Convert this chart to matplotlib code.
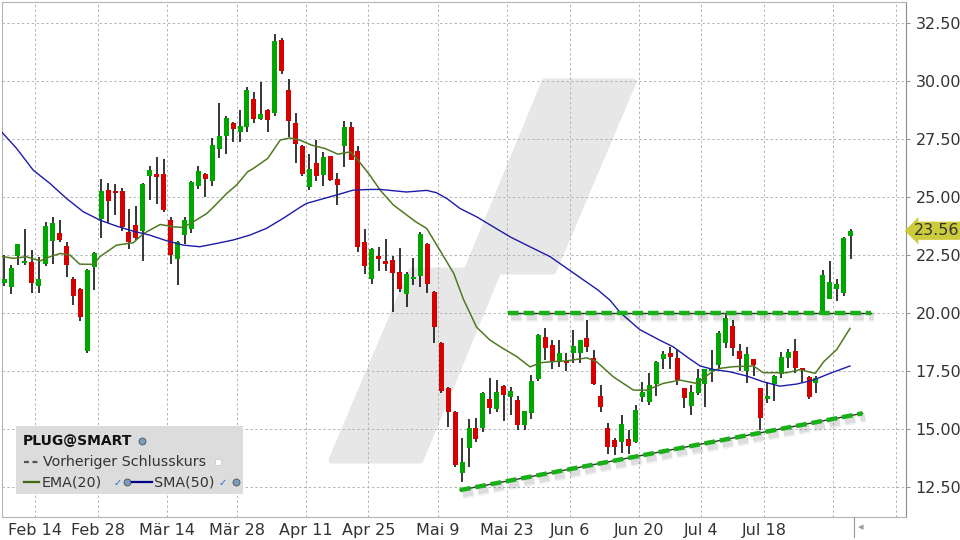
import numpy as np
import pandas as pd
import matplotlib
matplotlib.use('Agg')
import matplotlib.pyplot as plt
import matplotlib.transforms as mtransforms
import matplotlib.patheffects as pe
from matplotlib.patches import Polygon, Rectangle
from matplotlib.lines import Line2D

# Handelstage (NYSE 2022), erster Tag 7. Feb, letzter 3. Aug
feiertage = ['2022-02-21', '2022-04-15', '2022-05-30', '2022-06-20', '2022-07-04']
tage = pd.bdate_range('2022-02-07', '2022-08-03', freq='C', holidays=feiertage)
tage_ext = pd.bdate_range('2022-02-07', '2022-08-31', freq='C', holidays=feiertage)

eroeffnung = [21.32, 21.15, 22.47, 22.18, 22.21, 21.19, 22.13, 23.13, 23.46, 22.90,
              21.48, 21.05, 18.38, 22.01, 24.08, 25.31, 25.27, 25.27, 23.50, 23.81,
              23.56, 25.93, 26.00, 26.00, 24.02, 22.33, 23.38, 23.63, 25.50, 26.00,
              25.71, 27.10, 27.65, 28.20, 27.83, 28.04, 29.23, 28.39, 28.76, 28.65,
              31.78, 29.62, 28.20, 27.21, 25.46, 26.48, 25.97, 26.78, 25.79, 27.22,
              28.03, 27.00, 23.07, 21.49, 22.47, 22.25, 22.29, 21.78, 20.84, 21.49,
              21.62, 22.99, 20.94, 18.72, 16.78, 15.74, 13.10, 14.21, 15.05, 15.07,
              16.29, 15.89, 16.86, 16.40, 16.26, 15.18, 15.69, 17.18, 18.98, 18.63,
              17.93, 17.95, 18.31, 18.30, 18.93, 18.06, 16.43, 15.07, 14.53, 14.46,
              14.58, 14.46, 16.40, 16.19, 16.95, 18.02, 18.30, 18.06, 16.77, 16.00,
              16.57, 16.96, 17.52, 17.77, 18.70, 19.45, 18.37, 17.52, 18.03, 16.78,
              16.32, 16.95, 17.37, 18.08, 18.37, 17.63, 17.27, 17.01, 20.07, 20.61,
              21.06, 20.89, 23.34]
hoch = [22.51, 22.08, 23.00, 23.63, 22.73, 22.44, 23.95, 24.14, 24.02, 23.07,
        21.55, 21.10, 21.90, 22.64, 25.79, 25.60, 25.57, 25.39, 24.50, 24.63,
        25.62, 26.36, 26.75, 26.65, 24.14, 23.12, 24.17, 25.70, 26.35, 26.05,
        27.55, 29.06, 28.50, 28.26, 28.76, 29.75, 29.54, 29.97, 28.80, 32.02,
        31.88, 30.08, 28.63, 27.25, 26.86, 27.47, 26.97, 26.80, 26.05, 28.30,
        28.23, 27.21, 23.63, 22.83, 22.86, 23.20, 22.47, 22.83, 21.76, 22.40,
        23.50, 23.03, 20.98, 18.75, 16.84, 15.79, 14.61, 15.44, 15.50, 16.59,
        17.22, 17.14, 16.90, 16.84, 16.43, 15.80, 17.34, 19.13, 19.36, 18.84,
        18.87, 18.30, 19.28, 18.87, 19.71, 18.41, 16.91, 15.28, 14.61, 15.61,
        14.97, 16.04, 17.03, 17.44, 17.94, 18.39, 18.56, 18.42, 16.80, 16.90,
        17.62, 17.62, 18.40, 19.25, 19.95, 19.71, 18.66, 18.56, 18.05, 16.80,
        17.05, 17.35, 18.34, 18.46, 18.89, 17.66, 17.31, 17.31, 21.86, 22.25,
        21.48, 23.30, 23.62]
tief = [21.19, 20.83, 22.08, 22.08, 20.89, 20.89, 22.04, 22.13, 23.07, 21.58,
        20.37, 19.67, 18.30, 21.02, 23.26, 23.88, 24.24, 23.56, 22.76, 23.16,
        22.27, 24.88, 24.71, 24.38, 22.13, 21.22, 22.99, 23.45, 25.34, 25.03,
        25.50, 26.71, 26.88, 27.37, 27.37, 27.83, 28.21, 28.32, 27.83, 28.50,
        30.33, 27.61, 26.49, 25.94, 25.33, 25.71, 25.50, 25.71, 24.67, 26.32,
        26.59, 22.65, 21.69, 21.28, 21.84, 21.84, 20.07, 20.93, 20.28, 21.23,
        21.15, 20.89, 18.73, 16.55, 15.08, 13.39, 12.71, 13.39, 14.46, 14.90,
        15.67, 15.76, 15.37, 15.61, 14.97, 14.97, 15.44, 17.09, 17.98, 17.62,
        17.70, 17.52, 17.84, 17.84, 18.33, 16.91, 15.74, 13.93, 13.90, 13.96,
        13.93, 14.39, 16.16, 16.06, 16.43, 17.60, 17.60, 16.91, 15.90, 15.61,
        16.47, 15.97, 17.04, 17.65, 18.49, 18.17, 17.52, 17.01, 17.30, 14.97,
        16.12, 16.23, 17.22, 17.63, 17.41, 17.05, 16.32, 16.58, 20.07, 20.61,
        20.54, 20.76, 22.35]
schluss = [21.48, 21.97, 22.97, 22.25, 21.32, 21.48, 23.76, 23.89, 23.16, 22.10,
           20.76, 19.86, 21.87, 22.60, 25.27, 24.86, 25.20, 23.71, 23.07, 23.26,
           25.59, 26.18, 25.89, 24.45, 22.51, 23.06, 24.02, 25.66, 26.13, 25.80,
           27.25, 27.64, 28.44, 27.96, 28.07, 29.62, 28.39, 28.59, 28.34, 31.72,
           30.46, 28.30, 27.31, 26.02, 26.22, 25.93, 26.75, 25.76, 25.54, 28.03,
           26.63, 22.87, 22.05, 22.76, 22.35, 22.12, 21.75, 21.06, 21.69, 21.56,
           23.42, 21.28, 19.42, 16.66, 15.76, 13.47, 13.59, 15.05, 14.58, 16.56,
           15.94, 16.61, 16.49, 16.65, 15.20, 15.79, 17.08, 19.06, 18.52, 17.95,
           18.30, 17.88, 18.59, 18.85, 18.56, 16.96, 15.97, 14.25, 14.25, 15.22,
           14.29, 15.83, 16.62, 16.91, 17.91, 18.23, 18.13, 17.12, 16.36, 16.60,
           17.20, 17.60, 17.62, 19.15, 19.78, 18.49, 18.03, 18.23, 17.77, 15.50,
           16.43, 17.31, 18.13, 18.32, 17.65, 17.55, 16.40, 17.20, 21.65, 21.36,
           21.26, 23.24, 23.56]

# EMA(20) / SMA(50) (Position = Handelstag-Index)
ema_pos = [-0.6, 1.3, 3.2, 5.2, 6.6, 8.1, 9.5, 10.9, 12.9, 13.8, 16.2, 18.6, 20.1, 22.5,
           24.4, 25.8, 27.3, 29.2, 30.2, 32.1, 33.5, 35.1, 35.9, 38.0, 39.8, 41.2, 42.6,
           44.3, 46.2, 48.1, 49.9, 50.8, 52.7, 54.2, 56.1, 59.3, 60.9, 62.8, 64.8, 66.2,
           68.1, 70.0, 71.5, 73.9, 75.8, 77.3, 78.7, 81.1, 84.0, 85.4, 87.8, 90.7, 92.6,
           95.0, 97.4, 99.8, 102.2, 103.2, 105.1, 108.0, 109.4, 112.8, 114.7, 116.9,
           118.1, 120.0, 121.9]
ema_wert = [22.47, 22.37, 22.44, 22.26, 22.44, 22.58, 22.51, 22.12, 22.11, 22.44, 22.94,
            23.04, 23.44, 23.83, 23.73, 23.70, 23.95, 24.30, 24.59, 25.17, 25.53, 26.10,
            26.24, 26.68, 27.47, 27.56, 27.47, 27.25, 27.11, 26.86, 26.96, 26.68, 25.96,
            25.31, 24.67, 23.95, 23.66, 22.72, 21.72, 20.60, 19.40, 18.85, 18.56, 18.13,
            17.69, 17.87, 17.91, 17.95, 18.08, 17.91, 17.26, 16.69, 16.69, 16.98, 17.12,
            16.98, 17.52, 17.63, 17.70, 17.73, 17.44, 17.44, 17.57, 17.41, 17.91, 18.44,
            19.35]
sma_pos = [-0.6, 1.8, 4.2, 6.6, 9.0, 11.4, 13.8, 16.2, 18.6, 21.0, 23.4, 25.8, 28.2,
           30.6, 33.0, 35.4, 37.8, 40.2, 42.6, 43.6, 47.9, 50.3, 52.7, 54.2, 58.0, 60.9,
           62.3, 63.8, 65.7, 68.1, 70.5, 72.9, 75.3, 78.7, 82.0, 85.6, 87.3, 88.8, 91.6,
           94.5, 96.4, 98.5, 100.3, 102.2, 104.6, 107.0, 109.4, 111.8, 114.2, 116.6,
           119.0, 121.9]
sma_wert = [27.90, 27.11, 26.17, 25.60, 24.95, 24.38, 24.02, 23.76, 23.54, 23.37, 23.13,
            22.94, 22.87, 23.01, 23.16, 23.37, 23.66, 24.09, 24.56, 24.74, 25.10, 25.31,
            25.34, 25.34, 25.23, 25.30, 25.20, 24.95, 24.52, 24.16, 23.73, 23.30, 22.94,
            22.44, 21.75, 21.00, 20.57, 20.03, 19.30, 18.84, 18.56, 18.10, 17.73, 17.58,
            17.48, 17.30, 17.05, 16.86, 16.95, 17.12, 17.41, 17.73]

# Trendlinien
widerstand_x = [72.66, 124.9]
widerstand_y = [20.0, 20.0]
unterstuetzung_x = [65.7, 123.7]
unterstuetzung_y = [12.38, 15.69]

tick_datum = ['2022-02-14', '2022-02-28', '2022-03-14', '2022-03-28', '2022-04-11',
              '2022-04-25', '2022-05-09', '2022-05-23', '2022-06-06', '2022-06-20',
              '2022-07-04', '2022-07-18', '2022-08-01', '2022-08-12']
tick_text = ['Feb 14', 'Feb 28', 'Mär 14', 'Mär 28', 'Apr 11', 'Apr 25', 'Mai 9',
             'Mai 23', 'Jun 6', 'Jun 20', 'Jul 4', 'Jul 18', '', '']
y_ticks = [12.5, 15.0, 17.5, 20.0, 22.5, 25.0, 27.5, 30.0, 32.5]
letzter_kurs = schluss[-1]

o = np.array(eroeffnung); h = np.array(hoch); l = np.array(tief); c = np.array(schluss)
x = np.arange(len(o))
tick_pos = tage_ext.searchsorted(pd.to_datetime(tick_datum)) - 0.5

W, H = 960, 540
fig = plt.figure(figsize=(9.6, 5.4), dpi=100)
fig.patch.set_facecolor('white')
ax = fig.add_axes([2 / W, 1 - 517 / H, 903.7 / W, 515 / H])
ax.set_xlim(-0.30, 129.93)
ax.set_ylim(11.22, 33.42)

# Wasserzeichen
def af(px, py):
    return ((px - 2) / 903.7, (517 - py) / 515)
poly = [af(545, 82), af(633, 82), af(553, 271), af(498, 271), af(420, 460),
        af(332, 460), af(412, 271), af(467, 271)]
ax.add_patch(Polygon(poly, closed=True, transform=ax.transAxes, fc='#e7e7e7',
                     ec='#e7e7e7', lw=5, joinstyle='round', zorder=0))

# Gitter
for yv in y_ticks:
    ax.axhline(yv, color='#b4b4b4', lw=0.7, ls=(0, (2.5, 2.5)), zorder=1)
for xv in tick_pos:
    ax.axvline(xv, color='#b4b4b4', lw=0.7, ls=(0, (2.5, 2.5)), zorder=1)

# Kerzen
gruen, rot = '#00a600', '#d70000'
farben = np.where(c >= o, gruen, rot)
ax.vlines(x, l, h, color='black', lw=1.1, zorder=3)
unten = np.minimum(o, c)
hoehe = np.maximum(np.abs(c - o), 0.07)
ax.bar(x, hoehe, bottom=unten, width=0.72, color=farben, lw=0, zorder=4)

# Indikatoren
ax.plot(ema_pos, ema_wert, color='#4f7a22', lw=1.1, zorder=5)
ax.plot(sma_pos, sma_wert, color='#1c1ca8', lw=1.0, zorder=5)

# Trendlinien mit weichem Schatten
schatten = [pe.SimpleLineShadow(offset=(2, -3), shadow_color='#000000', alpha=0.06,
                                 linewidth=7),
            pe.SimpleLineShadow(offset=(2, -3), shadow_color='#000000', alpha=0.08,
                                 linewidth=4.5),
            pe.Normal()]
for tx, ty in [(widerstand_x, widerstand_y), (unterstuetzung_x, unterstuetzung_y)]:
    ax.plot(tx, ty, color='#333333', lw=1.0, zorder=6)
    ax.plot(tx, ty, color='#17b017', lw=3.2, dashes=(2.4, 1.1), solid_capstyle='butt',
            zorder=7, path_effects=schatten)

# Achsen
ax.set_xticks(tick_pos)
ax.set_xticklabels(tick_text)
ax.set_yticks(y_ticks)
ax.set_yticklabels(['%.2f' % v for v in y_ticks])
ax.yaxis.tick_right()
ax.tick_params(axis='y', length=3, pad=4, colors='#999999', labelcolor='#333333',
               labelsize=11.5)
ax.tick_params(axis='x', length=0, pad=4, labelcolor='#333333', labelsize=11.5)
for s in ['left', 'top', 'bottom']:
    ax.spines[s].set_color('#b4b4b4')
ax.spines['right'].set_color('#8c8c8c')

# letzter Kurs
trans = mtransforms.blended_transform_factory(ax.transAxes, ax.transData)
ax.text(1.0095, letzter_kurs, '%.2f' % letzter_kurs, transform=trans, ha='left',
        va='center', fontsize=11.5, color='#333333', clip_on=False, zorder=10,
        bbox=dict(boxstyle='larrow,pad=0.1', fc='#cbcb3c', ec='none'))

# Scroll-Marke unten
def ff(px, py):
    return (px / W, 1 - py / H)
fig.add_artist(Line2D([854 / W, 854 / W], [1 - 517 / H, 1 - 537 / H], color='#999999', lw=0.8))
fig.text(*ff(858, 527), '◂', fontsize=8, color='#999999', va='center', ha='left')

# Legende
fig.add_artist(Rectangle(ff(16, 494), 227 / W, 68 / H, fc='#dcdcdc', ec='none',
                         transform=fig.transFigure))
fig.text(*ff(23, 441), 'PLUG@SMART', fontsize=10, fontweight='bold', color='#111111',
         va='center')
fig.add_artist(Line2D([142 / W], [1 - 441 / H], marker='o', ms=5, mfc='#7f9bb8',
                      mec='#445566', mew=0.6, transform=fig.transFigure))
fig.add_artist(Line2D([24 / W, 39 / W], [1 - 462 / H] * 2, color='#555555', lw=1.6,
                      dashes=(2.2, 1.6), transform=fig.transFigure))
fig.text(*ff(43, 462), 'Vorheriger Schlusskurs', fontsize=10.3, color='#333333',
         va='center')
fig.add_artist(Line2D([218 / W], [1 - 462 / H], marker='s', ms=5, mfc='white',
                      mec='#cccccc', mew=0.6, transform=fig.transFigure))
fig.add_artist(Line2D([24 / W, 39 / W], [1 - 482 / H] * 2, color='#3d6b10', lw=1.6,
                      transform=fig.transFigure))
fig.text(*ff(42, 482), 'EMA(20)', fontsize=10.3, color='#333333', va='center')
fig.text(*ff(114, 483), '✓', fontsize=7, color='#2a66cc', va='center')
fig.add_artist(Line2D([127 / W], [1 - 482 / H], marker='o', ms=5, mfc='#7f9bb8',
                      mec='#445566', mew=0.6, transform=fig.transFigure))
fig.add_artist(Line2D([132 / W, 152 / W], [1 - 482 / H] * 2, color='#000088', lw=1.6,
                      transform=fig.transFigure))
fig.text(*ff(154, 482), 'SMA(50)', fontsize=10.3, color='#333333', va='center')
fig.text(*ff(219, 483), '✓', fontsize=7, color='#2a66cc', va='center')
fig.add_artist(Line2D([236 / W], [1 - 482 / H], marker='o', ms=5, mfc='#7f9bb8',
                      mec='#445566', mew=0.6, transform=fig.transFigure))

fig.savefig('out.png', dpi=100)
